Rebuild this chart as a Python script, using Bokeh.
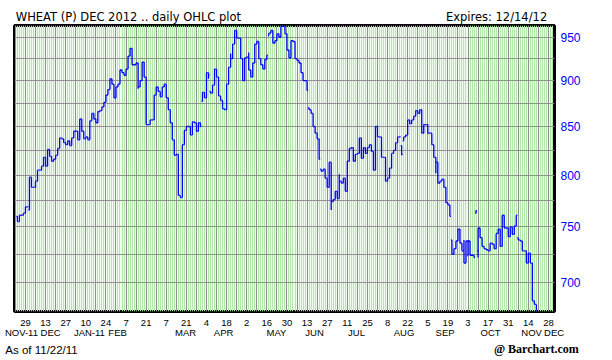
from bokeh.plotting import figure
from bokeh.models import FixedTicker, Grid, LinearAxis, NumeralTickFormatter, Range1d, ColumnDataSource
from bokeh.embed import file_html
from bokeh.resources import INLINE

title_text = "WHEAT (P) DEC 2012 .. daily OHLC plot"
expires_text = "Expires: 12/14/12"
asof_text = "As of 11/22/11"
credit_text = "@ Barchart.com"

# bottom tick labels (every second week, trading-day index 4, 14, 24, ...)
day_labels = ["29", "13", "27", "10", "24", "7", "21", "7", "21", "4", "18", "2", "16", "30",
              "13", "27", "11", "25", "8", "22", "5", "19", "3", "17", "31", "14", "28"]
month_labels = ["NOV-11", "DEC", "JAN-11", "FEB", "MAR", "APR", "MAY", "JUN", "JUL",
                "AUG", "SEP", "OCT", "NOV", "DEC"]
month_pos = [2.0, 16.5, 35.8, 49.8, 83.6, 102.5, 128.8, 147.7, 168.6, 192.2, 212.6,
             235.2, 255.6, 266.8]
price_ticks = [700, 750, 800, 850, 900, 950]
price_grid = [700, 725, 750, 775, 800, 825, 850, 875, 900, 925, 950]

opens = [
    760, 755, 761, 761, 763, 769, 766, 798, 788, 788,
    794, 805, 805, 809, 818, 809, 826, 819, 814, 816,
    820, 827, 838, 837, 833, 831, 835, 830, 838, 845,
    845, 836, 858, 845, 837, 839, 836, 856, 864, 858,
    854, 866, 867, 871, 876, 884, 890, 902, 896, 881,
    893, 896, 912, 909, 906, 913, 928, 937, 918, 918,
    920, 893, 900, 921, 904, 852, 852, 857, 857, 884,
    893, 888, 882, 893, 896, 881, 868, 854, 836, 820,
    821, 780, 778, 831, 846, 850, 850, 841, 855, 854,
    845, 854, 877, 887, 881, 909, 888, 886, 895, 913,
    904, 883, 878, 869, 868, 896, 915, 925, 942, 958,
    949, 949, 925, 900, 926, 927, 912, 904, 920, 942,
    945, 925, 918, 913, 924, 952, 955, 958, 943, 946,
    954, 950, 963, 963, 954, 935, 926, 946, 945, 925,
    923, 920, 909, 900, 900, 870, 868, 864, 850, 843,
    837, 806, 804, 806, 797, 788, 813, 774, 776, 784,
    777, 794, 792, 797, 784, 814, 827, 828, 814, 821,
    822, 838, 817, 828, 822, 828, 831, 824, 805, 850,
    839, 839, 818, 818, 794, 797, 807, 822, 825, 833,
    839, 830, 835, 839, 841, 857, 853, 857, 861, 867,
    864, 868, 843, 852, 852, 843, 843, 831, 818, 813,
    792, 794, 796, 788, 773, 771, 738, 725, 730, 737,
    748, 735, 728, 717, 737, 737, 724, 724, 763, 728,
    749, 740, 732, 730, 729, 728, 735, 734, 730, 744,
    748, 732, 761, 749, 749, 741, 750, 743, 751, 740,
    738, 737, 728, 728, 717, 726, 717, 684, 681,
]
highs = [
    760, 761, 761, 763, 769, 769, 798, 798, 788, 794,
    805, 805, 809, 818, 818, 826, 826, 819, 816, 820,
    827, 838, 838, 837, 833, 835, 835, 838, 845, 845,
    845, 858, 858, 845, 839, 839, 856, 864, 864, 858,
    866, 867, 871, 876, 884, 890, 902, 902, 896, 893,
    896, 912, 912, 909, 913, 928, 937, 937, 918, 920,
    920, 900, 921, 921, 904, 852, 857, 857, 884, 893,
    893, 888, 893, 896, 896, 881, 868, 854, 836, 821,
    821, 780, 831, 846, 850, 850, 850, 855, 855, 854,
    854, 854, 887, 887, 909, 909, 888, 895, 913, 913,
    904, 883, 878, 869, 896, 915, 931, 942, 958, 958,
    949, 949, 925, 926, 927, 932, 912, 920, 942, 945,
    945, 925, 918, 924, 929, 955, 958, 958, 946, 954,
    954, 963, 963, 963, 954, 935, 946, 946, 945, 925,
    923, 920, 909, 900, 900, 870, 868, 864, 850, 843,
    837, 806, 806, 806, 797, 813, 813, 776, 784, 784,
    801, 794, 797, 797, 814, 827, 828, 828, 821, 822,
    838, 838, 828, 828, 828, 831, 831, 824, 850, 850,
    839, 839, 818, 818, 797, 807, 822, 825, 833, 839,
    839, 830, 839, 841, 857, 857, 857, 861, 867, 867,
    868, 868, 852, 852, 852, 843, 843, 831, 818, 813,
    794, 796, 796, 788, 773, 771, 738, 730, 737, 748,
    748, 735, 738, 737, 737, 737, 724, 724, 766, 749,
    749, 740, 732, 730, 729, 735, 735, 734, 744, 748,
    748, 761, 761, 749, 749, 750, 750, 751, 761, 740,
    738, 737, 728, 728, 726, 726, 717, 684, 681,
]
lows = [
    755, 755, 761, 761, 763, 769, 766, 788, 788, 788,
    794, 805, 805, 809, 809, 809, 819, 814, 814, 816,
    820, 827, 837, 833, 831, 831, 830, 830, 838, 845,
    836, 836, 845, 837, 837, 836, 836, 856, 858, 854,
    854, 866, 867, 871, 876, 884, 890, 896, 881, 881,
    893, 896, 909, 906, 906, 913, 928, 918, 918, 918,
    891, 893, 900, 904, 852, 852, 852, 857, 857, 884,
    888, 882, 882, 893, 881, 868, 854, 836, 820, 820,
    780, 778, 778, 831, 846, 850, 841, 841, 854, 845,
    845, 850, 877, 881, 881, 902, 886, 886, 895, 904,
    883, 878, 869, 868, 868, 896, 915, 925, 942, 949,
    949, 925, 900, 900, 926, 912, 904, 904, 920, 942,
    925, 918, 913, 913, 924, 952, 955, 943, 943, 946,
    950, 950, 963, 954, 935, 926, 926, 945, 925, 923,
    920, 909, 900, 900, 889, 868, 864, 850, 843, 837,
    816, 804, 804, 797, 788, 788, 766, 774, 776, 777,
    777, 792, 792, 784, 784, 814, 827, 814, 814, 821,
    822, 817, 817, 822, 822, 828, 824, 805, 805, 839,
    839, 818, 818, 794, 794, 797, 807, 822, 825, 833,
    839, 820, 835, 839, 841, 853, 853, 857, 861, 864,
    864, 843, 843, 852, 843, 843, 831, 818, 802, 792,
    792, 794, 788, 773, 771, 760, 725, 725, 730, 737,
    735, 728, 717, 717, 723, 724, 724, 722, 763, 722,
    740, 732, 730, 729, 728, 728, 734, 730, 730, 744,
    732, 732, 749, 749, 741, 741, 743, 743, 751, 738,
    737, 728, 728, 717, 717, 717, 684, 681, 676,
]
closes = [
    755, 761, 761, 763, 769, 769, 798, 788, 788, 794,
    805, 805, 809, 818, 809, 826, 819, 814, 816, 820,
    827, 838, 837, 833, 831, 835, 830, 838, 845, 845,
    836, 858, 845, 837, 839, 836, 856, 864, 858, 854,
    866, 867, 871, 876, 884, 890, 902, 896, 881, 893,
    896, 912, 909, 906, 913, 928, 937, 918, 918, 920,
    893, 900, 921, 904, 852, 852, 857, 857, 884, 893,
    888, 882, 893, 896, 881, 868, 854, 836, 820, 821,
    780, 778, 831, 846, 850, 850, 841, 855, 854, 845,
    854, 850, 887, 881, 909, 906, 886, 895, 913, 904,
    883, 878, 869, 868, 896, 915, 925, 942, 958, 949,
    949, 925, 900, 926, 927, 912, 904, 920, 942, 945,
    925, 918, 913, 924, 929, 955, 958, 943, 946, 954,
    950, 963, 963, 954, 935, 926, 946, 945, 925, 923,
    920, 909, 900, 900, 889, 868, 864, 850, 843, 837,
    816, 804, 806, 797, 788, 813, 774, 776, 784, 777,
    794, 792, 797, 784, 814, 827, 828, 814, 821, 822,
    838, 817, 828, 822, 828, 831, 824, 805, 850, 839,
    839, 818, 818, 794, 797, 807, 822, 825, 833, 839,
    839, 821, 839, 841, 857, 853, 857, 861, 867, 864,
    868, 843, 852, 852, 843, 843, 831, 818, 813, 792,
    794, 796, 788, 773, 771, 760, 725, 730, 737, 748,
    735, 728, 717, 737, 737, 724, 724, 722, 765, 749,
    740, 732, 730, 729, 728, 735, 734, 730, 744, 748,
    732, 761, 749, 749, 741, 750, 743, 751, 761, 738,
    737, 728, 728, 717, 726, 717, 684, 681, 676,
]

days = list(range(len(closes)))
src = ColumnDataSource(dict(
    x=days,
    xl=[d - 0.5 for d in days],
    xr=[d + 0.5 for d in days],
    o=opens, h=highs, l=lows, c=closes,
))

p = figure(frame_width=540, frame_height=286,
           min_border_left=14, min_border_right=50, min_border_top=25, min_border_bottom=47,
           x_range=Range1d(-1.44, 267.0), y_range=Range1d(675, 964),
           y_axis_type="log", y_axis_location="right",
           output_backend="svg", toolbar_location=None)

p.background_fill_color = "#effcee"
p.border_fill_color = "white"
p.outline_line_color = "black"
p.outline_line_width = 3

# daily pale green stripes
p.xgrid.ticker = FixedTicker(ticks=list(range(-1, 268)))
p.xgrid.grid_line_color = "#b2e9ab"
p.xgrid.grid_line_width = 1
# weekly gray lines
week_grid = Grid(dimension=0, ticker=FixedTicker(ticks=list(range(-1, 268, 5))),
                 grid_line_color="#909090", grid_line_width=1)
p.add_layout(week_grid)
p.ygrid.ticker = FixedTicker(ticks=price_grid)
p.ygrid.grid_line_color = "#909090"
p.ygrid.grid_line_width = 1


def plain_axis(ax, standoff, font, size, color="black", style="normal"):
    ax.axis_line_color = None
    ax.major_tick_line_color = None
    ax.minor_tick_line_color = None
    ax.major_tick_out = 0
    ax.major_tick_in = 0
    ax.major_label_standoff = standoff
    ax.major_label_text_font = font
    ax.major_label_text_font_size = size
    ax.major_label_text_color = color
    ax.major_label_text_font_style = style


# x axis (day numbers)
day_tick_pos = [4 + 10 * i for i in range(len(day_labels))]
xa = p.xaxis[0]
xa.ticker = FixedTicker(ticks=day_tick_pos)
xa.major_label_overrides = {t: s for t, s in zip(day_tick_pos, day_labels)}
plain_axis(xa, 8, "Liberation Sans", "9.5px")

# month row
ma = LinearAxis(ticker=FixedTicker(ticks=month_pos),
                major_label_overrides={t: s for t, s in zip(month_pos, month_labels)})
plain_axis(ma, -2, "Liberation Sans", "9.5px")
p.add_layout(ma, "below")

# footer row: "As of" text
fa = LinearAxis(ticker=FixedTicker(ticks=[12.0]), major_label_overrides={12.0: asof_text})
plain_axis(fa, 3, "Liberation Sans", "11.5px")
p.add_layout(fa, "below")

# footer row: credit (pulled up into the same row)
ca = LinearAxis(ticker=FixedTicker(ticks=[258.0]), major_label_overrides={258.0: credit_text})
plain_axis(ca, -17, "Liberation Serif", "12px", style="bold")
p.add_layout(ca, "below")

# title row
ta = LinearAxis(ticker=FixedTicker(ticks=[55.2, 238.2]),
                major_label_overrides={55.2: title_text, 238.2: expires_text})
plain_axis(ta, 2, "DejaVu Sans", "11.5px")
p.add_layout(ta, "above")

# y axis (right, blue)
ya = p.yaxis[0]
ya.ticker = FixedTicker(ticks=price_ticks)
ya.formatter = NumeralTickFormatter(format="0")
plain_axis(ya, 6, "Liberation Sans", "12px", color="#0000ff")

# OHLC bars
bar_color = "#0000ff"
p.segment(x0="x", y0="l", x1="x", y1="h", source=src, line_color=bar_color, line_width=1.3)
p.segment(x0="xl", y0="o", x1="x", y1="o", source=src, line_color=bar_color, line_width=1.3)
p.segment(x0="x", y0="c", x1="xr", y1="c", source=src, line_color=bar_color, line_width=1.3)

open("out.html", "w").write(file_html(p, INLINE))
